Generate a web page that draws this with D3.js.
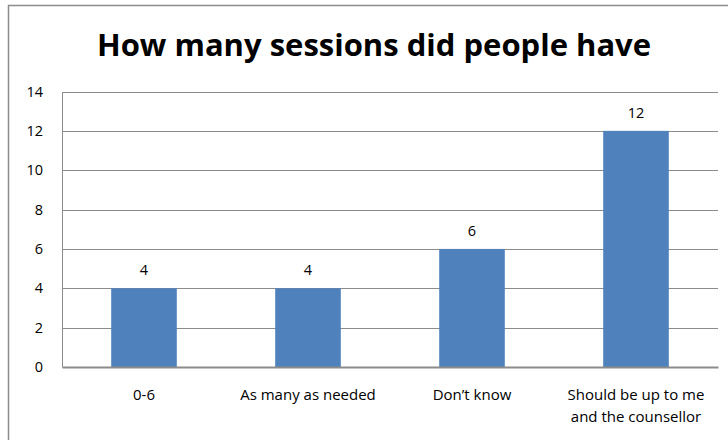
<!DOCTYPE html>
<html>
<head>
<meta charset="utf-8">
<script src="https://cdn.jsdelivr.net/npm/d3@7"></script>
<style>
  body { margin: 0; background: #fff; }
  text { font-family: "Open Sans", "Noto Sans", sans-serif; fill: #000; }
</style>
</head>
<body>
<svg id="chart"></svg>
<script>
// Data
const categories = ["0-6", "As many as needed", "Don\u2019t know", "Should be up to me|and the counsellor"];
const counts = [4, 4, 6, 12];
const yTicks = [0, 2, 4, 6, 8, 10, 12, 14];
const title = "How many sessions did people have";

const W = 728, H = 440;
const plot = { left: 62, right: 718, top: 91.5, bottom: 367 };

const svg = d3.select("#chart").attr("width", W).attr("height", H);

// outer chart border (cut off at right/bottom)
svg.append("rect")
    .attr("x", 8.5).attr("y", 5.5)
    .attr("width", 730).attr("height", 450)
    .attr("fill", "none").attr("stroke", "#8c8c8c").attr("stroke-width", 1.5);

svg.append("text")
    .attr("x", 374).attr("y", 56)
    .attr("text-anchor", "middle")
    .style("font-size", "31px").style("font-weight", "bold")
    .text(title);

const x = d3.scaleBand()
    .domain(categories)
    .range([plot.left, plot.right])
    .padding(0);

const y = d3.scaleLinear()
    .domain([0, 14])
    .range([plot.bottom, plot.top]);

// gridlines
svg.append("g")
    .selectAll("line")
    .data(yTicks.filter(d => d > 0))
    .enter().append("line")
    .attr("x1", plot.left).attr("x2", plot.right)
    .attr("y1", d => Math.round(y(d)) + 0.5).attr("y2", d => Math.round(y(d)) + 0.5)
    .attr("stroke", "#8c8c8c").attr("stroke-width", 1);

// y axis
const yAxis = svg.append("g")
    .attr("transform", `translate(${plot.left},0)`)
    .call(d3.axisLeft(y).tickValues(yTicks).tickSize(0).tickPadding(19));
yAxis.select(".domain").attr("stroke", "#8c8c8c").attr("stroke-width", 1);
yAxis.selectAll("text").style("font-size", "14.5px").style("font-family", "'Open Sans', sans-serif").attr("fill", "#000");

// bars
const barW = x.bandwidth() * 0.4;
svg.append("g")
    .selectAll("rect")
    .data(counts)
    .enter().append("rect")
    .attr("x", (d, i) => x(categories[i]) + (x.bandwidth() - barW) / 2)
    .attr("width", barW)
    .attr("y", d => y(d))
    .attr("height", d => y(0) - y(d))
    .attr("fill", "#4f81bd");

// value labels
svg.append("g")
    .selectAll("text")
    .data(counts)
    .enter().append("text")
    .attr("x", (d, i) => x(categories[i]) + x.bandwidth() / 2)
    .attr("y", d => y(d) - 13)
    .attr("text-anchor", "middle")
    .style("font-size", "14.5px")
    .text(d => d);

// x axis
const xAxis = svg.append("g")
    .attr("transform", `translate(0,${plot.bottom})`)
    .call(d3.axisBottom(x).tickSize(0).tickFormat(""));
xAxis.select(".domain").attr("stroke", "#8c8c8c").attr("stroke-width", 2);

const catLabels = svg.append("g")
    .selectAll("text")
    .data(categories)
    .enter().append("text")
    .attr("x", d => x(d) + x.bandwidth() / 2)
    .attr("y", 400)
    .attr("text-anchor", "middle")
    .style("font-size", "15px");
catLabels.each(function(d) {
    const lines = d.split("|");
    d3.select(this).selectAll("tspan")
        .data(lines)
        .enter().append("tspan")
        .attr("x", x(d) + x.bandwidth() / 2)
        .attr("dy", (l, i) => i === 0 ? 0 : 22)
        .text(l => l);
});
</script>
</body>
</html>
